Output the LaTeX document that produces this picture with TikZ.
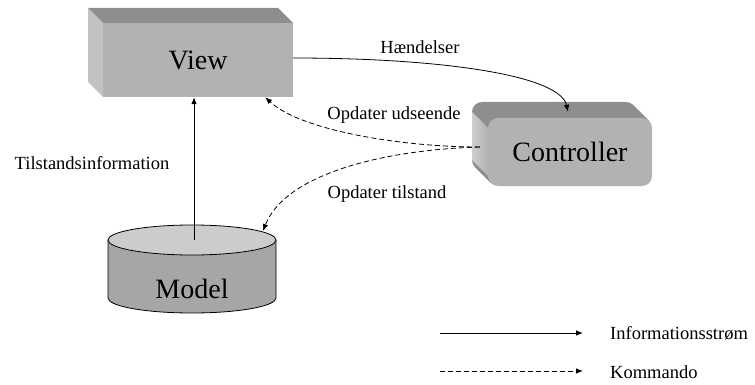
\documentclass[tikz,border=0pt]{standalone}
\usepackage{fontspec}
\setmainfont{Liberation Serif}
\usetikzlibrary{arrows.meta,calc}
\definecolor{facefront}{HTML}{B2B2B2}
\definecolor{facetop}{HTML}{8E8E8E}
\definecolor{faceleft}{HTML}{C2C2C2}
\definecolor{cyltop}{HTML}{CCCCCC}
\definecolor{cylbody}{HTML}{A6A6A6}
\tikzset{
  bigtext/.style={font=\fontsize{28}{31}\selectfont, text=black},
  smalltext/.style={font=\fontsize{18.5}{21}\selectfont, text=black, inner sep=0pt},
  flow/.style={line width=0.8pt, -{Latex[length=7pt,width=5.5pt]}},
  cmd/.style={flow, dash pattern=on 5pt off 3pt}
}
\begin{document}
\begin{tikzpicture}[x=1pt,y=-1pt]
\useasboundingbox (0,0) rectangle (755,385);
% ---------- View box ----------
\fill[faceleft] (88,8) -- (103,23) -- (103,97) -- (88,82) -- cycle;
\fill[facetop] (88,8) -- (278,8) -- (293,23) -- (103,23) -- cycle;
\node[bigtext, fill=facefront, minimum width=190pt, minimum height=74pt, inner sep=0pt] (view) at (198,60) {View};
% ---------- Controller box ----------
\foreach \t in {16,15,...,1}{
  \fill[facetop, rounded corners=10pt] ($(488,118)+(-\t,-\t)$) rectangle ($(652,186)+(-\t,-\t)$);
}
\shade[left color=faceleft!80!white, right color=facefront] (472,112) -- (488,128) -- (488,176) -- (472,160) -- cycle;
\node[bigtext, fill=facefront, rounded corners=10pt, minimum width=164pt, minimum height=68pt, inner sep=0pt] (ctrl) at (570,152) {Controller};
% ---------- Model cylinder ----------
\fill[cylbody, draw=black, line width=0.8pt] (108,240) -- (108,298) arc[start angle=180, end angle=360, x radius=84pt, y radius=15pt] -- (276,240) -- cycle;
\fill[cyltop, draw=black, line width=0.8pt] (192,240) ellipse[x radius=84pt, y radius=15pt];
\node[bigtext] (model) at (192,289) {Model};
% ---------- connection points ----------
\coordinate (mtop) at (194,240);
\coordinate (cw) at ($(ctrl.west)+(-8,-5)$);
\coordinate (ctop) at ($(ctrl.north)+(-2,-6)$);
\coordinate (vse) at ($(view.south east)+(-28,0)$);
\coordinate (mtr) at (263,231);
% ---------- connectors ----------
\draw[flow] (mtop) -- (mtop |- view.south);
\draw[flow] ($(view.east)+(0,-2)$) .. controls (440,58) and (560,75) .. (ctop);
\draw[cmd] (cw) .. controls (400,147) and (300,130) .. (vse);
\draw[cmd] (cw) .. controls (380,150) and (285,175) .. (mtr);
% ---------- labels ----------
\node[smalltext] (lh) at (420,47) {Hændelser};
\node[smalltext] (lu) at (394,115) {Opdater udseende};
\node[smalltext] (lt) at (387,194) {Opdater tilstand};
\node[smalltext] (li) at (92,163) {Tilstandsinformation};
% ---------- legend ----------
\coordinate (l1a) at (440,333);
\coordinate (l1b) at (583,333);
\coordinate (l2a) at (440,371);
\coordinate (l2b) at (583,371);
\draw[flow] (l1a) -- (l1b);
\draw[cmd] (l2a) -- (l2b);
\node[smalltext, anchor=west] (leg1) at (610,333) {Informationsstrøm};
\node[smalltext, anchor=west] (leg2) at (610,372) {Kommando};
\end{tikzpicture}
\end{document}
